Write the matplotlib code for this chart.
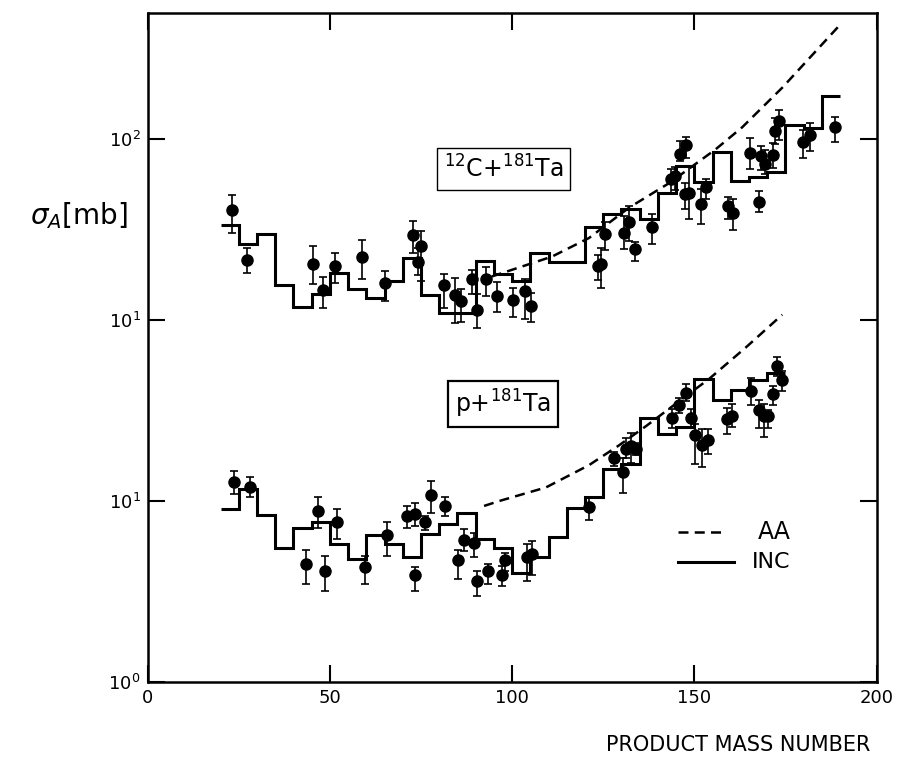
import matplotlib
matplotlib.use("Agg")
import matplotlib.pyplot as plt
import numpy as np

plt.rcParams["font.family"] = ["DejaVu Sans"]
plt.rcParams["mathtext.fontset"] = "dejavusans"

# upper curve (12C + 181Ta) is drawn one decade higher than its own scale
UPPER_SHIFT = 10.0

# --- 12C + 181Ta : INC histogram (mb), 5-unit bins from A = 20
c_edges = np.arange(20, 195, 5)
c_inc = [33.5, 26.2, 29.7, 15.7, 11.8, 13.9, 18.1, 14.9, 13.2, 16.4,
         22.1, 13.8, 10.9, 10.9, 21.3, 18.0, 16.4, 23.4, 20.8, 20.8,
         32.6, 38.4, 41.3, 36.3, 50.4, 70.8, 58.2, 85.0, 58.6, 61.5,
         66.1, 120.0, 115.0, 172.0]

# --- 12C + 181Ta : AA curve
c_aa_A = [94.4, 110.9, 121.1, 132.1, 143.1, 155.7, 163.1, 174.1, 189.8]
c_aa = [17.4, 22.4, 28.4, 41.8, 57.1, 87.3, 116.0, 192.0, 424.0]

# --- 12C + 181Ta : measured points
c_A = [23.2, 27.4, 45.5, 48.0, 51.3, 58.7, 65.0, 72.7, 74.9, 74.1,
       81.2, 84.3, 85.9, 88.9, 90.3, 92.8, 95.8, 100.2, 103.5, 105.1,
       123.6, 124.4, 125.5, 130.7, 132.1, 133.7, 138.4, 143.6, 144.7, 146.1,
       147.7, 147.5, 148.6, 151.8, 153.2, 159.3, 160.6, 165.3, 167.8, 168.3,
       169.4, 171.6, 172.2, 173.3, 179.9, 181.8, 188.7]
c_val = [40.5, 21.6, 20.3, 14.6, 19.8, 22.3, 16.0, 29.6, 25.7, 21.0,
         15.6, 13.7, 12.7, 16.8, 11.4, 16.9, 13.6, 12.9, 14.4, 11.9,
         19.9, 20.5, 29.8, 30.4, 35.0, 24.8, 32.7, 60.0, 62.3, 82.4,
         92.3, 49.5, 50.1, 44.0, 54.6, 42.7, 39.1, 83.5, 44.7, 80.2,
         72.4, 82.1, 111.0, 125.0, 96.4, 105.0, 116.0]
c_lo = [30.2, 18.1, 15.8, 11.7, 16.1, 16.9, 12.7, 23.6, 16.5, 17.8,
        11.6, 9.6, 9.8, 14.0, 9.0, 13.5, 11.1, 10.4, 10.1, 9.8,
        16.6, 15.0, 24.3, 24.8, 27.2, 21.3, 26.4, 49.6, 52.0, 75.4,
        78.2, 40.9, 36.0, 34.1, 46.9, 36.2, 31.5, 68.1, 39.4, 67.1,
        63.7, 69.6, 93.3, 99.3, 78.7, 85.9, 95.9]
c_hi = [49.0, 24.9, 25.6, 17.2, 23.6, 27.7, 18.6, 35.4, 31.1, 25.1,
        17.9, 17.0, 14.8, 19.0, 14.0, 19.7, 16.3, 15.0, 16.8, 14.1,
        22.8, 25.0, 34.7, 37.8, 42.9, 27.1, 38.6, 68.2, 70.0, 97.2,
        102.0, 56.9, 70.6, 53.3, 60.4, 47.9, 46.7, 101.0, 51.4, 91.2,
        86.5, 94.5, 131.0, 145.0, 112.0, 123.0, 133.0]

# --- p + 181Ta : INC histogram (mb)
p_edges = np.arange(20, 180, 5)
p_inc = [9.0, 11.7, 8.4, 5.5, 7.1, 7.7, 5.8, 4.8, 6.5, 5.8,
         4.9, 6.6, 7.5, 8.6, 6.2, 5.5, 4.0, 4.9, 6.3, 9.2,
         10.5, 15.1, 16.1, 28.8, 23.4, 25.8, 47.5, 36.2, 41.0, 46.4,
         51.2]

# --- p + 181Ta : AA curve
p_aa_A = [92.3, 96.4, 109.3, 121.1, 129.3, 136.8, 145.8, 154.1, 164.2, 174.1]
p_aa = [9.4, 10.0, 11.9, 15.8, 20.3, 26.0, 35.6, 47.4, 70.8, 107.0]

# --- p + 181Ta : measured points
p_A = [23.6, 28.0, 46.7, 51.9, 43.4, 48.6, 59.6, 65.6, 71.1, 73.3,
       76.0, 77.7, 81.5, 73.3, 85.1, 86.8, 89.5, 90.3, 93.4, 97.2,
       98.0, 104.1, 105.4, 121.1, 128.0, 130.4, 131.3, 132.6, 134.0, 143.9,
       145.8, 147.8, 149.1, 150.2, 152.1, 153.8, 159.0, 160.4, 165.6, 167.8,
       169.2, 170.3, 171.7, 172.8, 174.1]
p_val = [12.7, 12.0, 8.8, 7.7, 4.5, 4.1, 4.3, 6.5, 8.3, 8.5,
         7.7, 10.8, 9.4, 3.9, 4.7, 6.1, 5.9, 3.6, 4.1, 3.9,
         4.7, 4.9, 5.1, 9.3, 17.2, 14.4, 19.5, 20.2, 19.5, 28.7,
         33.8, 39.4, 28.6, 23.3, 20.5, 21.8, 28.4, 29.5, 40.4, 31.7,
         29.7, 29.7, 38.8, 56.0, 46.8]
p_lo = [10.9, 10.5, 7.1, 6.2, 3.5, 3.2, 3.5, 5.0, 7.1, 7.3,
        6.9, 8.6, 8.3, 3.2, 3.7, 5.3, 4.9, 3.0, 3.5, 3.4,
        4.1, 3.6, 3.9, 7.9, 15.7, 11.1, 17.2, 16.3, 18.0, 25.2,
        30.6, 35.6, 25.2, 16.1, 15.5, 18.3, 23.5, 25.6, 33.8, 25.2,
        22.5, 25.2, 34.1, 49.3, 40.7]
p_hi = [14.6, 13.5, 10.5, 9.1, 5.4, 5.0, 5.0, 7.7, 9.4, 9.7,
        8.3, 12.9, 10.5, 4.3, 5.4, 7.0, 6.7, 4.1, 4.5, 4.4,
        5.2, 5.8, 6.0, 10.5, 18.6, 17.2, 22.2, 23.9, 21.0, 32.1,
        37.0, 44.2, 32.1, 26.8, 25.1, 25.1, 32.7, 34.4, 47.7, 36.0,
        34.2, 31.9, 43.5, 62.8, 52.5]

y_ticks = [1, 10, 100, 1000]
y_labels = [r"$10^0$", r"$10^1$", r"$10^1$", r"$10^2$"]
x_ticks = [0, 50, 100, 150, 200]

fig = plt.figure(figsize=(9, 7.63), dpi=100)
ax = fig.add_axes([0.164, 0.106, 0.81, 0.877])

DASH = (4, 2.5)

# upper set
cv = np.array(c_val) * UPPER_SHIFT
ax.stairs(np.array(c_inc) * UPPER_SHIFT, c_edges, color="black", lw=2.2, baseline=None)
ax.plot(c_aa_A, np.array(c_aa) * UPPER_SHIFT, color="black", lw=1.8, dashes=DASH)
ax.errorbar(c_A, cv,
            yerr=[cv - np.array(c_lo) * UPPER_SHIFT, np.array(c_hi) * UPPER_SHIFT - cv],
            fmt="o", ms=8, color="black", ecolor="black", elinewidth=1.2,
            capsize=3, capthick=1.2)

# lower set
pv = np.array(p_val)
ax.stairs(p_inc, p_edges, color="black", lw=2.2, baseline=None)
ax.plot(p_aa_A, p_aa, color="black", lw=1.8, dashes=DASH)
ax.errorbar(p_A, pv, yerr=[pv - np.array(p_lo), np.array(p_hi) - pv],
            fmt="o", ms=8, color="black", ecolor="black", elinewidth=1.2,
            capsize=3, capthick=1.2)

ax.set_yscale("log")
ax.set_xlim(0, 200)
ax.set_ylim(1, 4970)
ax.set_yticks(y_ticks)
ax.set_yticklabels(y_labels)
ax.yaxis.set_minor_locator(matplotlib.ticker.NullLocator())
ax.set_xticks(x_ticks)
ax.tick_params(direction="in", length=12, width=1.5, top=True, right=True,
               labelsize=13, pad=5)
for s in ax.spines.values():
    s.set_linewidth(1.8)

# reaction labels
ax.text(0.488, 0.767, r"$^{12}$C+$^{181}$Ta", transform=ax.transAxes,
        ha="center", va="center", fontsize=17,
        bbox=dict(boxstyle="square,pad=0.3", fc="white", ec="black", lw=1.0))
ax.text(0.488, 0.416, r"p+$^{181}$Ta", transform=ax.transAxes,
        ha="center", va="center", fontsize=17,
        bbox=dict(boxstyle="square,pad=0.3", fc="white", ec="black", lw=1.6))

# legend drawn by hand
ax.plot([0.727, 0.794], [0.224, 0.224], transform=ax.transAxes,
        color="black", lw=1.8, dashes=DASH)
ax.text(0.837, 0.224, "AA", transform=ax.transAxes, ha="left", va="center",
        fontsize=17)
ax.plot([0.727, 0.805], [0.179, 0.179], transform=ax.transAxes,
        color="black", lw=2.2)
ax.text(0.829, 0.179, "INC", transform=ax.transAxes, ha="left", va="center",
        fontsize=16)

fig.text(0.033, 0.718, r"$\sigma_A$[mb]", ha="left", va="center", fontsize=20)
fig.text(0.967, 0.024, "PRODUCT MASS NUMBER", ha="right", va="center",
         fontsize=15)

fig.savefig("out.png", dpi=100)
